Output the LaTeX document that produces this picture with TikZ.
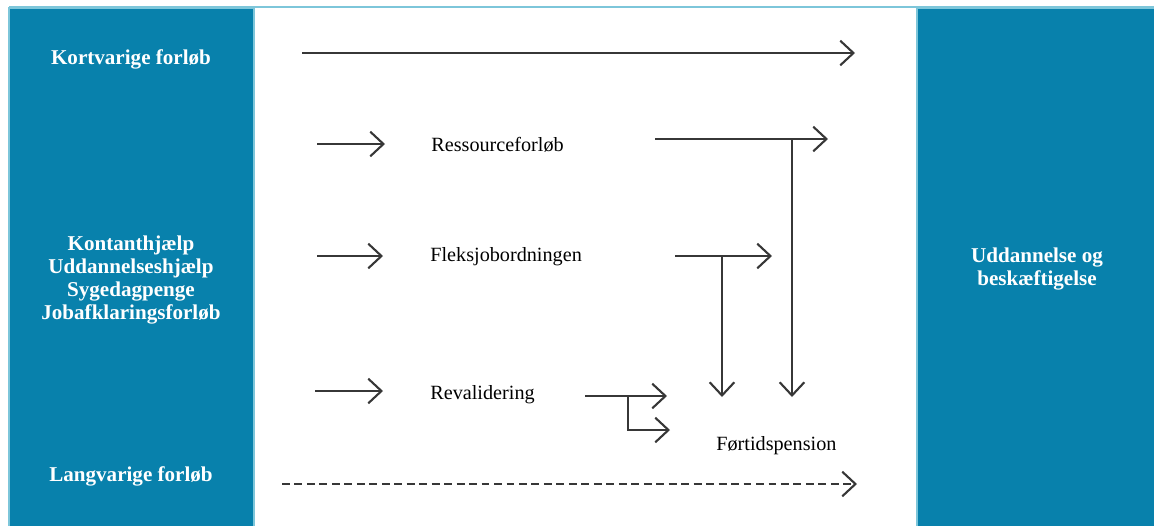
\documentclass[tikz,border=0pt]{standalone}
\usepackage{fontspec}
\setmainfont{Liberation Serif}
\usetikzlibrary{arrows.meta}

\definecolor{panelblue}{RGB}{8,129,172}
\definecolor{edgeblue}{RGB}{125,198,218}
\definecolor{linegray}{RGB}{55,55,55}

\begin{document}
\begin{tikzpicture}[
    x=0.02cm, y=-0.02cm,
    panel/.style={fill=panelblue, draw=edgeblue, line width=0.6pt},
    paneltext/.style={
        text=white,
        font=\fontsize{12}{13}\selectfont\bfseries,
        align=center
    },
    course/.style={
        anchor=west,
        inner sep=0pt,
        font=\fontsize{11.5}{13}\selectfont
    },
    flow/.style={
        draw=linegray,
        line width=1.2pt,
        -{Straight Barb[length=7.5pt,width=14pt,line width=1.2pt]}
    }
]
\useasboundingbox (0,0) rectangle (1154,525);

% panels
\draw[edgeblue, line width=0.8pt] (9,7) -- (1154,7);
\path[panel] (9,8) rectangle (254,530);
\path[panel] (917,8) rectangle (1160,530);

\node[paneltext] (kort) at (131,59) {Kortvarige forløb};
\node[paneltext] (ydelser) at (131,280) {Kontanthjælp\\Uddannelseshjælp\\Sygedagpenge\\Jobafklaringsforløb};
\node[paneltext] (lang) at (131,476) {Langvarige forløb};
\node[paneltext] (maal) at (1037,269) {Uddannelse og\\beskæftigelse};

% forløb
\node[course] (ressource) at (431,145) {Ressourceforløb};
\node[course] (fleks) at (430,257) {Fleksjobordningen};
\node[course] (reval) at (430,395) {Revalidering};
\node[course] (foertid) at (716,446) {Førtidspension};

% end points
\coordinate (kortStart) at (302,53);
\coordinate (kortEnd) at (855,53);
\coordinate (langStart) at (282,484);
\coordinate (langEnd) at (857,484);
\coordinate (rIn) at (317,144);
\coordinate (rTip) at (385,144);
\coordinate (fIn) at (317,256);
\coordinate (fTip) at (383,256);
\coordinate (vIn) at (315,391);
\coordinate (vTip) at (383,391);
\coordinate (rOut) at (655,139);
\coordinate (rEnd) at (828,139);
\coordinate (rSplit) at (792,139);
\coordinate (rDown) at (792,397);
\coordinate (fOut) at (675,256);
\coordinate (fEnd) at (772,256);
\coordinate (fSplit) at (722,256);
\coordinate (fDown) at (722,397);
\coordinate (vOut) at (585,396);
\coordinate (vEnd) at (667,396);
\coordinate (vSplit) at (628,396);
\coordinate (vLow) at (670,430);

\draw[flow] (kortStart) -- (kortEnd);
\draw[flow, line width=0.9pt, dash pattern=on 4.5pt off 2.6pt] (langStart) -- (langEnd);

\draw[flow] (rIn) -- (rTip);
\draw[flow] (fIn) -- (fTip);
\draw[flow] (vIn) -- (vTip);

\draw[flow] (rOut) -- (rEnd);
\draw[flow] (rSplit) -- (rDown);
\draw[flow] (fOut) -- (fEnd);
\draw[flow] (fSplit) -- (fDown);
\draw[flow] (vOut) -- (vEnd);
\draw[flow] (vSplit) |- (vLow);

\end{tikzpicture}
\end{document}
